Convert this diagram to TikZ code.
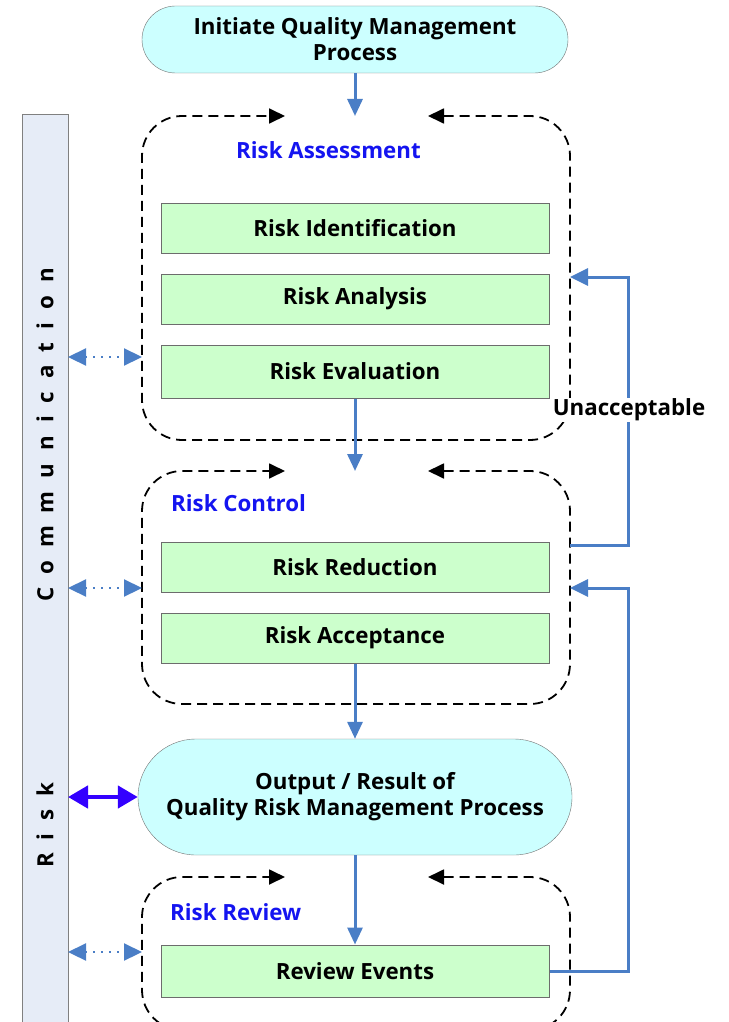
\documentclass[tikz,border=0pt]{standalone}
\usepackage{fontspec}
\setmainfont{Open Sans}
\usetikzlibrary{shapes.misc,arrows.meta}
\definecolor{flowblue}{HTML}{4A7EC6}
\definecolor{termfill}{HTML}{CCFFFF}
\definecolor{boxfill}{HTML}{CCFFCC}
\definecolor{barfill}{HTML}{E6ECF7}
\definecolor{labelblue}{HTML}{1414F0}
\definecolor{brightblue}{HTML}{3300FF}
\newcommand\lsp{\hspace{13pt}}
\begin{document}
\begin{tikzpicture}[x=1pt,y=-1pt,
  every node/.style={font=\fontsize{22.3}{26}\selectfont\bfseries},
  term/.style={rounded rectangle, draw=gray!90!black, fill=termfill, align=center, inner sep=0pt},
  stepbox/.style={rectangle, draw=gray!85!black, line width=1pt, fill=boxfill, minimum width=388pt, inner sep=0pt},
  grplabel/.style={anchor=west, text=labelblue, inner sep=0pt},
  flow/.style={draw=flowblue, line width=3pt, -{Triangle[length=17pt,width=15pt]}},
  loop/.style={draw=flowblue, line width=3pt, -{Triangle[length=18pt,width=17pt]}},
  dotarrow/.style={draw=flowblue, line width=2.2pt, dash pattern=on 2pt off 6pt,
     {Triangle[length=18pt,width=17pt]}-{Triangle[length=18pt,width=17pt]}},
  boldarrow/.style={draw=brightblue, line width=4.5pt,
     {Triangle[length=20pt,width=22pt]}-{Triangle[length=20pt,width=22pt]}},
  dashbox/.style={draw=black, line width=1.8pt, dash pattern=on 10pt off 6pt, rounded corners=40pt,
     {Triangle[length=16pt,width=15pt]}-{Triangle[length=16pt,width=15pt]}},
]
\path[use as bounding box] (0,0) rectangle (728,1022);
\clip (0,0) rectangle (728,1022);

% communication bar
\draw[draw=gray, fill=barfill, line width=1pt] (22,115) rectangle (68,1040);
\coordinate (barRA) at (68,357);
\coordinate (barRC) at (68,588);
\coordinate (barOut) at (68,797);
\coordinate (barRR) at (68,952);
\node[rotate=90, inner sep=0pt] (comm) at (45,435) {C\lsp o\lsp m\lsp m\lsp u\lsp n\lsp i\lsp c\lsp a\lsp t\lsp i\lsp o\lsp n};
\node[rotate=90, inner sep=0pt] (risk) at (45,825) {R\lsp i\lsp s\lsp k};

% dashed group boxes
\draw[dashbox] (428,116) -- (570,116) -- (570,440) -- (142,440) -- (142,116) -- (285,116);
\draw[dashbox] (428,471) -- (570,471) -- (570,704) -- (142,704) -- (142,471) -- (285,471);
\draw[dashbox] (428,877) -- (570,877) -- (570,1030) -- (142,1030) -- (142,877) -- (285,877);
\coordinate (RAleft) at (142,357);
\coordinate (RCleft) at (142,588);
\coordinate (RRleft) at (142,952);
\coordinate (RAright) at (570,277);
\coordinate (RCright) at (570,545);
\coordinate (RCin) at (570,588);
\coordinate (RAtop) at (355,116);
\coordinate (RCtop) at (355,471);

% group labels
\node[grplabel] (lRA) at (236,150) {Risk Assessment};
\node[grplabel] (lRC) at (171,503) {Risk Control};
\node[grplabel] (lRR) at (170,912) {Risk Review};

% terminators
\node[term, minimum width=426pt, minimum height=67pt] (init) at (355,39.5) {Initiate Quality Management\\Process};
\node[term, minimum width=434pt, minimum height=116pt] (out) at (355,797) {Output / Result of\\Quality Risk Management Process};

% step boxes
\node[stepbox, minimum height=50pt] (ri) at (355,228) {Risk Identification};
\node[stepbox, minimum height=50pt] (ran) at (355,299) {Risk Analysis};
\node[stepbox, minimum height=53pt] (rev) at (355,371.5) {Risk Evaluation};
\node[stepbox, minimum height=50pt] (rred) at (355,567.5) {Risk Reduction};
\node[stepbox, minimum height=50pt] (racc) at (355,638) {Risk Acceptance};
\node[stepbox, minimum height=52pt] (revt) at (355,971) {Review Events};

% main flow
\draw[flow] (init.south) -- (RAtop);
\draw[flow] (rev.south) -- (RCtop);
\draw[flow] (racc.south) -- (out.north);
\draw[flow] (out.south) -- (revt.north);

% feedback loops
\draw[loop] (RCright) -- (628,545) -- (628,277) -- (RAright);
\draw[loop] (revt.east) -- (628,971) -- (628,588) -- (RCin);
\node[fill=white, inner sep=1pt] (unacc) at (629,410) {Unacceptable};

% communication arrows
\draw[dotarrow] (barRA) -- (RAleft);
\draw[dotarrow] (barRC) -- (RCleft);
\draw[dotarrow] (barRR) -- (RRleft);
\draw[boldarrow] (barOut) -- (out.west);
\end{tikzpicture}
\end{document}
